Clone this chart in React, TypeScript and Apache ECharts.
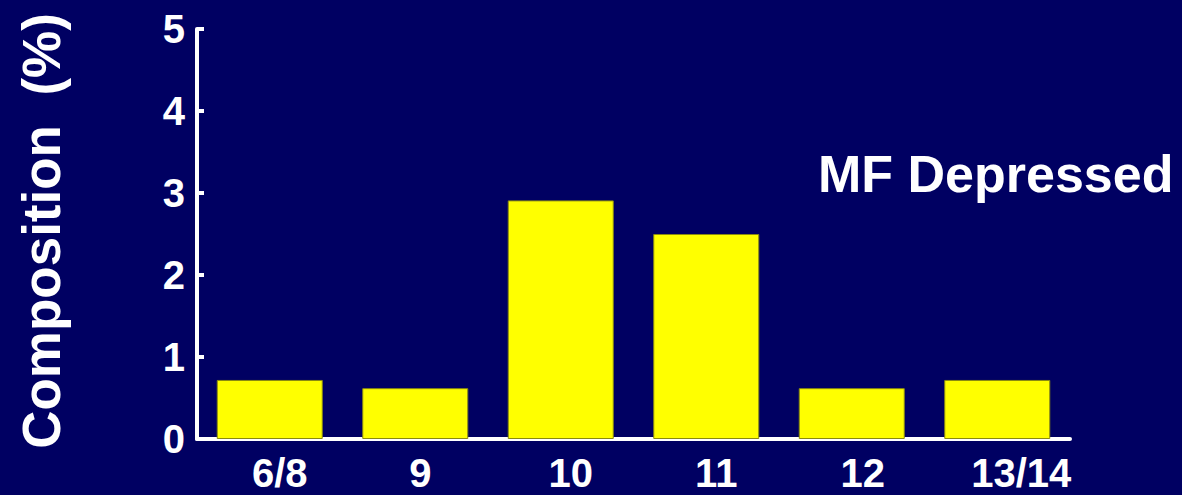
import React, { useEffect, useRef } from "react";
import * as echarts from "echarts";

const categories = ["6/8", "9", "10", "11", "12", "13/14"];
const values = [0.72, 0.62, 2.91, 2.5, 0.62, 0.72];
const yTicks = [0, 1, 2, 3, 4, 5];
const yTitle = "Composition  (%)";
const panelLabel = "MF Depressed";

// horizontal nudges of the category labels (px) as drawn in the original slide
const labelShift = [10, 5, 10, 10, 11, 24];

const FONT = "'Liberation Sans', Arial, Helvetica, sans-serif";
const BG = "#000062";

export default function App() {
  const ref = useRef<HTMLDivElement>(null);
  useEffect(() => {
    if (!ref.current) return;
    const chart = echarts.init(ref.current, undefined, { renderer: "svg" });
    const rich: Record<string, any> = {};
    labelShift.forEach((s, i) => {
      rich["o" + i] = {
        color: "#ffffff",
        fontFamily: FONT,
        fontWeight: "bold",
        fontSize: 40,
        padding: [0, 0, 0, 2 * s],
      };
    });
    chart.setOption({
      animation: false,
      backgroundColor: BG,
      grid: { left: 197, top: 29, width: 873, height: 410 },
      xAxis: {
        type: "category",
        data: categories,
        axisLine: { show: true, lineStyle: { color: "#ffffff", width: 4 } },
        axisTick: { show: false },
        axisLabel: {
          show: true,
          interval: 0,
          margin: 14,
          formatter: (v: string, i: number) => `{o${i}|${v}}`,
          rich,
        },
      },
      yAxis: {
        type: "value",
        min: yTicks[0],
        max: yTicks[yTicks.length - 1],
        interval: 1,
        splitLine: { show: false },
        axisLine: { show: true, lineStyle: { color: "#ffffff", width: 4 } },
        axisTick: { show: true, inside: true, length: 7, lineStyle: { color: "#ffffff", width: 4 } },
        axisLabel: {
          color: "#ffffff",
          fontFamily: FONT,
          fontWeight: "bold",
          fontSize: 40,
          margin: 12,
        },
      },
      series: [
        {
          type: "bar",
          data: values,
          barWidth: 106,
          itemStyle: { color: "#ffff00", borderColor: "#8a8a10", borderWidth: 1 },
        },
      ],
      graphic: [
        {
          type: "text",
          x: 41,
          y: 231,
          rotation: Math.PI / 2,
          style: {
            text: yTitle,
            fill: "#ffffff",
            font: `bold 53px ${FONT}`,
            align: "center",
            verticalAlign: "middle",
          },
        },
        {
          type: "text",
          x: 818,
          y: 174,
          style: {
            text: panelLabel,
            fill: "#ffffff",
            font: `bold 52px ${FONT}`,
            align: "left",
            verticalAlign: "middle",
          },
        },
      ],
    });
    return () => chart.dispose();
  }, []);
  return (
    <div
      ref={ref}
      style={{ position: "fixed", left: 0, top: 0, width: 1182, height: 495, background: BG }}
    />
  );
}
